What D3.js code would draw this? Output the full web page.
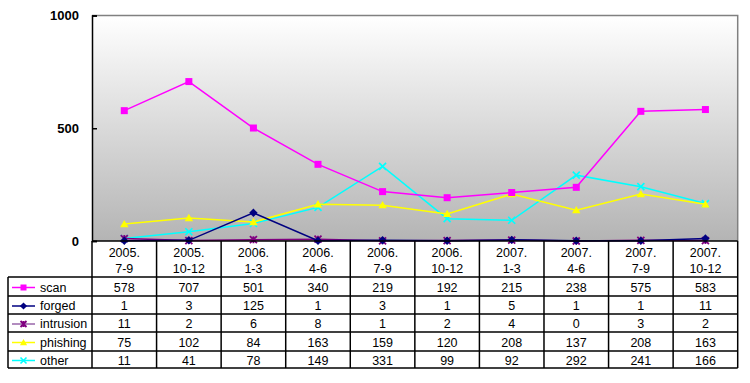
<!DOCTYPE html>
<html><head><meta charset="utf-8">
<script src="https://cdn.jsdelivr.net/npm/d3@7"></script>
<style>body{margin:0;background:#fff;}svg{display:block;}</style>
</head><body>
<svg id="c" width="750" height="383"></svg>
<script>
const periods = [["2005.","7-9"],["2005.","10-12"],["2006.","1-3"],["2006.","4-6"],["2006.","7-9"],["2006.","10-12"],["2007.","1-3"],["2007.","4-6"],["2007.","7-9"],["2007.","10-12"]];
const seriesNames = ["scan","forged","intrusion","phishing","other"];
const scan = [578,707,501,340,219,192,215,238,575,583];
const forged = [1,3,125,1,3,1,5,1,1,11];
const intrusion = [11,2,6,8,1,2,4,0,3,2];
const phishing = [75,102,84,163,159,120,208,137,208,163];
const other = [11,41,78,149,331,99,92,292,241,166];
const yTicks = [0,500,1000];
const colors = ["#ff00ff","#000080","#800080","#ffff00","#00ffff"];
const legendLineColors = ["#ff00ff","#000080","#9966aa","#ffff00","#00ffff"];
const markers = ["square","diamond","star","triangle","x"];
const values = [scan,forged,intrusion,phishing,other];

const svg = d3.select("#c");
const font = "'Liberation Sans', Arial, sans-serif";
const L = 92, R = 737.7, T = 15.5, B = 241;
const x = d3.scaleBand().domain(d3.range(periods.length)).range([L, R]);
const y = d3.scaleLinear().domain([0, 1000]).range([B, T]);

const defs = svg.append("defs");
const g = defs.append("linearGradient").attr("id","bg").attr("x1",0).attr("y1",0).attr("x2",0).attr("y2",1);
g.append("stop").attr("offset","0%").attr("stop-color","#ffffff");
g.append("stop").attr("offset","100%").attr("stop-color","#b4b4b4");

svg.append("rect").attr("x",L).attr("y",T).attr("width",R-L).attr("height",B-T).attr("fill","url(#bg)");
svg.append("path").attr("d",`M${L},${T}H${R}V${B}`).attr("fill","none").attr("stroke","#808080").attr("stroke-width",1.5);

const yAxis = d3.axisLeft(y).tickValues(yTicks).tickSize(-5).tickPadding(13).tickFormat(d3.format("d"));
const ya = svg.append("g").attr("transform",`translate(${L},0)`).call(yAxis);
ya.select(".domain").attr("stroke","#000").attr("stroke-width",1.5);
ya.selectAll(".tick line").attr("stroke","#000").attr("stroke-width",1.5);
ya.selectAll(".tick text").attr("font-family",font).attr("font-size",13).attr("font-weight","bold").attr("fill","#000");

function marker(sel, type, color, s) {
  if (type === "square") sel.append("rect").attr("x",-s/2).attr("y",-s/2).attr("width",s).attr("height",s).attr("fill",color);
  else if (type === "diamond") sel.append("path").attr("d",`M0,${-s*0.6}L${s*0.6},0L0,${s*0.6}L${-s*0.6},0Z`).attr("fill",color);
  else if (type === "triangle") sel.append("path").attr("d",`M0,${-s*0.6}L${s*0.6},${s*0.45}L${-s*0.6},${s*0.45}Z`).attr("fill",color);
  else if (type === "x") sel.append("path").attr("d",`M${-s/2},${-s/2}L${s/2},${s/2}M${s/2},${-s/2}L${-s/2},${s/2}`).attr("stroke",color).attr("stroke-width",1.6);
  else if (type === "star") sel.append("path").attr("d",`M${-s/2},${-s/2}L${s/2},${s/2}M${s/2},${-s/2}L${-s/2},${s/2}M0,${-s/2}V${s/2}`).attr("stroke",color).attr("stroke-width",1.8);
}

const line = d3.line().x((d,i)=>x(i)+x.bandwidth()/2).y(d=>y(d));
[4,3,2,1,0].forEach(k => {
  svg.append("path").datum(values[k]).attr("d",line).attr("fill","none").attr("stroke",colors[k]).attr("stroke-width",1.5);
  values[k].forEach((v,i) => {
    const m = svg.append("g").attr("transform",`translate(${x(i)+x.bandwidth()/2},${y(v)})`);
    marker(m, markers[k], colors[k], 7);
  });
});
svg.append("line").attr("x1",L).attr("x2",R).attr("y1",B).attr("y2",B).attr("stroke","#000").attr("stroke-width",1.5);

const rowY = [277,296,314,332,351,368];
const tL = 8;
const tg = svg.append("g").attr("stroke","#000").attr("stroke-width",1.5);
periods.forEach((p,i)=>{
  tg.append("line").attr("x1",x(i)).attr("x2",x(i)).attr("y1",B).attr("y2",rowY[5]);
});
tg.append("line").attr("x1",R).attr("x2",R).attr("y1",B).attr("y2",rowY[5]);
tg.append("line").attr("x1",tL).attr("x2",tL).attr("y1",rowY[0]).attr("y2",rowY[5]);
rowY.forEach(yy=>{
  tg.append("line").attr("x1",tL).attr("x2",R).attr("y1",yy).attr("y2",yy);
});

const tx = svg.append("g").attr("font-family",font).attr("font-size",12.5).attr("fill","#000").attr("text-anchor","middle");
periods.forEach((p,i)=>{
  const cx = x(i)+x.bandwidth()/2;
  tx.append("text").attr("x",cx).attr("y",253).attr("dy","0.35em").text(p[0]);
  tx.append("text").attr("x",cx).attr("y",268.5).attr("dy","0.35em").text(p[1]);
});
values.forEach((vals,k)=>{
  const cy = (rowY[k]+rowY[k+1])/2 + 1;
  vals.forEach((v,i)=>{
    tx.append("text").attr("x",x(i)+x.bandwidth()/2).attr("y",cy).attr("dy","0.35em").text(v);
  });
  svg.append("line").attr("x1",12).attr("x2",35).attr("y1",cy).attr("y2",cy).attr("stroke",legendLineColors[k]).attr("stroke-width",1.5);
  const m = svg.append("g").attr("transform",`translate(23.5,${cy})`);
  marker(m, markers[k], colors[k], 6);
  svg.append("text").attr("x",40).attr("y",cy).attr("dy","0.35em").attr("font-family",font).attr("font-size",12.5).attr("fill","#000").text(seriesNames[k]);
});
</script>
</body></html>
